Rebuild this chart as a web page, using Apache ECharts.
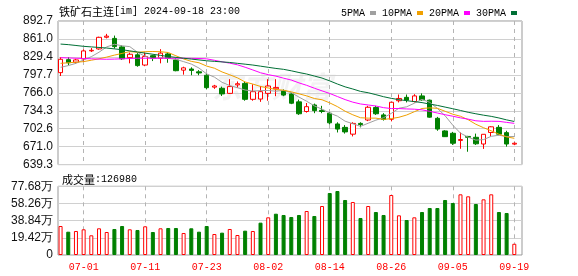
<!DOCTYPE html>
<html><head><meta charset="utf-8">
<script src="https://cdn.jsdelivr.net/npm/echarts@6/dist/echarts.min.js"></script>
<style>html,body{margin:0;padding:0;background:#fff}#c{width:578px;height:276px}</style>
</head><body><div id="c"></div>
<script>
const dates = ['06-26','06-27','06-28','07-01','07-02','07-03','07-04','07-05','07-08','07-09',
 '07-10','07-11','07-12','07-15','07-16','07-17','07-18','07-19','07-22','07-23',
 '07-24','07-25','07-26','07-29','07-30','07-31','08-01','08-02','08-05','08-06',
 '08-07','08-08','08-09','08-12','08-13','08-14','08-15','08-16','08-19','08-20',
 '08-21','08-22','08-23','08-26','08-27','08-28','08-29','08-30','09-02','09-03',
 '09-04','09-05','09-06','09-09','09-10','09-11','09-12','09-13','09-18','09-19'];
const opens = [801.6,824.5,820,825.7,840,843.4,864,862,847,828,
 833,815,831.5,827,834.6,824,806,808,803,797,
 776,774,765,780,782.6,754.5,755,765,773,770,
 764,750,733,744.5,735,730,711,705,693,712,
 718,740,727,719.3,752,758,750.5,760.5,753,721,
 698.7,694.6,682,689,687.5,675.6,696,705,695.7,675.5];
const closes = [825.2,819,824,839.9,841,863.9,866,847.5,826,834,
 814,830,827,836,827,805,810,805.5,801,775,
 778,764,777,782,754.5,768,768,778,775.5,762,
 747.6,729,741.5,734.5,733,713,702,697,712,710,
 740.5,729,719,749.3,756,753,760.5,753.5,723,702,
 688.6,677,683.5,687.5,676,692.8,706,693,675.6,677];
const lows = [795.7,815,817,821,838,842,862,844,824,818,
 812,813,822,818,819,804,798,797,797,772,
 773,760.4,764,775,752,752,750,752,760,760,
 746,727,731,730,730,710,696,694,689,705,
 716,727,717,715.6,749,749,749,752,722,699,
 688,674,667.2,662,674,667,689,691,671,673.6];
const highs = [828.7,828.7,826,842.8,845,865,870,867,850,837,
 836,837,833,843,837,827,812,811,806,800,
 780,776.9,790,786,786,781,778,790,790,772,
 766,754,748,747,743,732,714,709,714,714,
 743,743,730,750,763,763,763.5,765,754,723.5,
 700,697,696,690,694,693,707,709,699,678.5];
const volumes = [327900,263500,271400,290600,222700,301900,260000,294000,327900,290600,
 282700,324500,260000,301900,305300,305300,248800,302000,263700,327900,
 237400,252500,294000,226100,275200,271400,365700,426000,466900,452300,
 429700,452300,497500,441000,554000,701000,723600,621900,599300,418400,
 554000,486200,452300,678400,448600,395700,426000,486200,531400,531400,
 621900,588000,686100,663500,576700,629600,686100,486200,474900,126980];
const volUp = [1,0,1,1,1,1,1,0,0,1, 0,1,0,1,0,0,1,0,0,0,
 1,0,1,1,0,1,0,1,0,0, 0,0,1,0,1,0,0,0,1,0, 1,0,0,1,1,0,1,0,0,0,
 0,0,1,1,0,1,1,0,0,1];
const ma5 = [811,814,818,824,829.8,837.6,847.0,851.7,848.9,847.5,
 837.5,830.3,826.2,828.2,826.8,825.0,821.0,816.7,809.7,799.3,
 793.7,784.5,778.8,775.0,770.9,769.1,769.9,770.1,768.8,770.3,
 766.2,758.4,751.1,742.9,737.1,730.2,724.8,715.9,711.4,706.8,
 712.3,717.7,722.1,729.6,738.8,741.3,747.6,754.5,749.2,738.4,
 725.5,708.8,694.8,687.7,682.5,683.4,689.2,691.1,688.7,688.9];
const ma10 = [818,819,820,821,823.5,826,829,832.5,835.5,838.7,
 837.5,838.6,838.9,838.5,837.1,831.3,825.7,821.5,819.0,813.1,
 809.4,802.8,797.8,792.4,785.1,781.4,777.2,774.5,771.9,770.6,
 767.7,764.2,760.6,755.9,753.7,748.2,741.6,733.5,727.2,722.0,
 721.3,721.3,719.0,720.5,722.8,726.8,732.6,738.3,739.4,738.6,
 733.4,728.2,724.6,718.5,710.5,704.4,699.0,692.9,688.2,685.7];
const ma20 = [828,827.5,827,826.5,826,825.5,825.2,825.5,826,826.5,
 827,827,827,827,827,827,827,826.8,826.5,825.9,
 823.4,820.7,818.3,815.4,811.1,806.3,801.4,798.0,795.4,791.8,
 788.5,783.5,779.2,774.1,769.4,764.8,759.4,754.0,749.5,746.3,
 744.5,742.7,739.8,738.2,738.2,737.5,737.1,735.9,733.3,730.3,
 727.3,724.7,721.8,719.5,716.6,715.6,715.8,715.6,713.8,712.1];
const ma30 = [852,851,849.5,848,847,846,845,843.5,842,840,
 838,836,834,832,830,828.5,827,825.5,824,822.5,
 821.5,820.5,819.5,818,816.5,815,813,811,809,807.4,
 804.8,801.8,799.1,795.6,792.0,787.0,781.5,776.5,772.7,768.5,
 766.1,762.7,759.1,756.2,753.9,752.1,750.5,748.7,746.1,743.7,
 740.8,737.9,734.8,731.6,729.0,726.5,724.4,721.6,718.2,715.4];
const priceTicks = ['639.3','671.0','702.6','734.3','766.0','797.7','829.4','861.0','892.7'];
const volTicks = ['0','19.42万','38.84万','58.26万','77.68万'];
const xTickIdx = [3,11,19,27,35,43,51,59];
const titleName = '铁矿石主连';
const titleCode = '[im] 2024-09-18 23:00';

const pMin = parseFloat(priceTicks[0]), pMax = parseFloat(priceTicks[priceTicks.length-1]);
const pInt = (pMax - pMin) / (priceTicks.length - 1);
const vMax = 776800, vInt = vMax / (volTicks.length - 1);

const UP = '#ff0000', DOWN = '#008000';
const idx = dates.map((d, i) => i);
const kData = idx.map(i => [i, opens[i], closes[i], lows[i], highs[i]]);
const line = arr => idx.map(i => [i, arr[i]]);
const volData = idx.map(i => ({
  value: [i, volumes[i]],
  itemStyle: volUp[i] ? {color: '#fff', borderColor: UP, borderWidth: 1} : {color: DOWN, borderColor: DOWN, borderWidth: 1}
}));

// x range: each trading day is one unit; the helper axis splits each unit into thirds
const xMin = -1 / 3, xMax = dates.length;
const thirds = Array.from({length: 3 * dates.length + 2}, (d, k) => String(k));
const helperAxis = (gi) => ({
  gridIndex: gi, type: 'category', data: thirds, boundaryGap: false, position: 'top',
  axisLine: {show: false}, axisTick: {show: false}, axisLabel: {show: false},
  splitLine: {show: true, interval: (k) => xTickIdx.indexOf((k - 1) / 3) >= 0,
    lineStyle: {color: '#b4b4b4', width: 1, type: [4, 4]}}
});

const monoFont = 'Liberation Mono';
const xCommon = {
  type: 'value', min: xMin, max: xMax,
  axisLine: {show: false},
  axisTick: {show: false},
  splitLine: {show: false}
};
const richTxt = {
  a: {fontFamily: 'Noto Sans CJK SC', fontSize: 11, color: '#000', fontWeight: 'normal'},
  b: {fontFamily: monoFont, fontSize: 10, color: '#000', fontWeight: 'normal'}
};

const chart = echarts.init(document.getElementById('c'), null, {renderer: 'canvas'});
chart.setOption({
  animation: false,
  backgroundColor: '#fff',
  title: [
    {text: '{a|' + titleName + '}{b|' + titleCode + '}', left: 54, top: 1,
     textStyle: {fontWeight: 'normal', rich: richTxt}},
    {text: '{a|成交量}{b|:' + volumes[volumes.length-1] + '}', left: 57, top: 169,
     textStyle: {fontWeight: 'normal', rich: richTxt}}
  ],
  legend: {
    left: 336, top: 3, align: 'right', itemGap: 6, itemWidth: 6, itemHeight: 4,
    icon: 'rect', selectedMode: false,
    textStyle: {fontFamily: monoFont, fontSize: 10, color: '#000', fontWeight: 'normal'},
    data: ['5PMA', '10PMA', '20PMA', '30PMA']
  },
  graphic: [{type: 'text', left: 212, top: 72, silent: true, z: -1,
    style: {text: '东方财富', font: 'italic bold 30px "Noto Sans CJK SC"', fill: 'rgba(0,0,0,0.05)'}}],
  grid: [
    {left: 58, right: 56, top: 21, height: 143.6, show: true, borderColor: '#999', borderWidth: 1, backgroundColor: 'transparent', outerBoundsMode: 'none'},
    {left: 58, right: 56, top: 186.3, height: 68.7, show: true, borderColor: '#999', borderWidth: 1, backgroundColor: 'transparent', outerBoundsMode: 'none'}
  ],
  xAxis: [
    Object.assign({gridIndex: 0, axisLabel: {show: false}}, xCommon),
    Object.assign({gridIndex: 1, axisLabel: {show: true, customValues: xTickIdx, margin: 7,
      fontFamily: monoFont, fontSize: 10, color: '#ff0000',
      formatter: v => dates[Math.round(v)] || ''}}, xCommon),
    helperAxis(0),
    helperAxis(1)
  ],
  yAxis: [
    {gridIndex: 0, type: 'value', min: pMin, max: pMax, interval: pInt, scale: true,
     axisLine: {show: false}, axisTick: {show: false},
     splitLine: {lineStyle: {color: '#d0d0d0', width: 1}},
     axisLabel: {margin: 5, fontFamily: 'Liberation Sans', fontSize: 12, color: '#111',
       formatter: v => priceTicks[Math.round((v - pMin) / pInt)] || ''}},
    {gridIndex: 1, type: 'value', min: 0, max: vMax, interval: vInt,
     axisLine: {show: false}, axisTick: {show: false},
     splitLine: {lineStyle: {color: '#d0d0d0', width: 1}},
     axisLabel: {margin: 5, fontFamily: 'Liberation Sans', fontSize: 12, color: '#111',
       formatter: v => volTicks[Math.round(v / vInt)] || ''}}
  ],
  series: [
    {type: 'candlestick', xAxisIndex: 0, yAxisIndex: 0, data: kData, barWidth: 5, z: 3,
     encode: {x: 0, y: [1, 2, 3, 4]},
     itemStyle: {color: '#fff', color0: DOWN, borderColor: UP, borderColor0: DOWN, borderWidth: 1}},
    {name: '5PMA', type: 'line', data: line(ma5), symbol: 'none', color: '#a0a0a0', lineStyle: {width: 1}, z: 4},
    {name: '10PMA', type: 'line', data: line(ma10), symbol: 'none', color: '#f0a000', lineStyle: {width: 1}, z: 4},
    {name: '20PMA', type: 'line', data: line(ma20), symbol: 'none', color: '#ff00ff', lineStyle: {width: 1}, z: 4},
    {name: '30PMA', type: 'line', data: line(ma30), symbol: 'none', color: '#006f35', lineStyle: {width: 1}, z: 4},
    {type: 'bar', xAxisIndex: 1, yAxisIndex: 1, data: volData, barWidth: 4, z: 3}
  ]
});
</script></body></html>
